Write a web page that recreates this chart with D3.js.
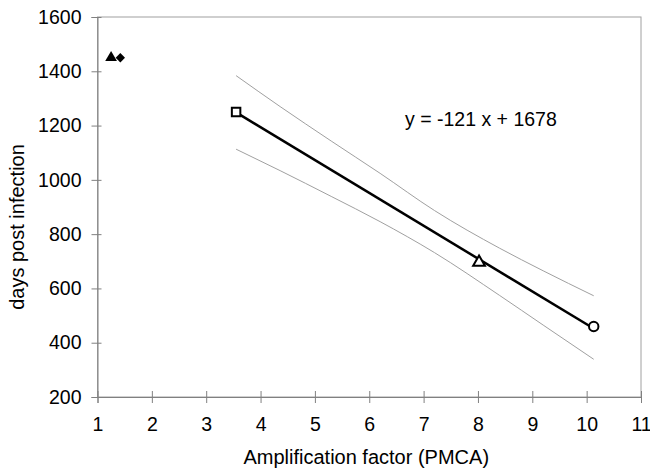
<!DOCTYPE html>
<html>
<head>
<meta charset="utf-8">
<script src="https://cdn.jsdelivr.net/npm/d3@7"></script>
<style>
  body { margin: 0; background: #fff; }
  text { font-family: "Liberation Sans", Arial, sans-serif; fill: #000; }
</style>
</head>
<body>
<svg id="chart" width="650" height="474"></svg>
<script>
// data points (amplification factor, days post infection)
const filledPoints = [
  { x: 1.25, y: 1450, shape: 'triangle' },
  { x: 1.42, y: 1450, shape: 'diamond' },
];
const openPoints = [
  { x: 3.55, y: 1250, shape: 'square' },
  { x: 8.02, y: 700, shape: 'triangle' },
  { x: 10.13, y: 460, shape: 'circle' },
];
// regression y = -121 x + 1678
const slope = -121, intercept = 1678;
const fitRange = [3.55, 10.13];
// confidence bands
const bandX = [3.55, 4.36, 5.3, 6.2, 7.2, 8.4, 9.2, 10.13];
const upperBand = [1384, 1270, 1143, 1024, 887, 748, 665, 573];
const lowerBand = [1113, 1034, 939, 846, 732, 574, 465, 339];
const xTicks = [1, 2, 3, 4, 5, 6, 7, 8, 9, 10, 11];
const yTicks = [200, 400, 600, 800, 1000, 1200, 1400, 1600];

const svg = d3.select('#chart');
const margin = { left: 97.5, right: 9, top: 17, bottom: 77 };
const W = 650, H = 474;
const FONT = 19.5;

const x = d3.scaleLinear().domain([1, 11]).range([margin.left, W - margin.right]);
const y = d3.scaleLinear().domain([200, 1600]).range([H - margin.bottom, margin.top]);

//边框
svg.append('rect')
  .attr('x', x(1)).attr('y', y(1600))
  .attr('width', x(11) - x(1)).attr('height', y(200) - y(1600))
  .attr('fill', 'none').attr('stroke', '#a0a0a0').attr('stroke-width', 1);

//坐标轴
const xAxis = svg.append('g')
  .attr('transform', `translate(0,${y(200)})`)
  .call(d3.axisBottom(x).tickValues(xTicks).tickFormat(d3.format('d')).tickSize(6).tickPadding(14));
xAxis.selectAll('.tick line').attr('y1', -6).attr('y2', 6);

const yAxis = svg.append('g')
  .attr('transform', `translate(${x(1)},0)`)
  .call(d3.axisLeft(y).tickValues(yTicks).tickFormat(d3.format('d')).tickSize(6).tickPadding(10));
yAxis.selectAll('.tick line').attr('x1', -6).attr('x2', 4);

[xAxis, yAxis].forEach(g => {
  g.select('.domain').attr('stroke', '#808080');
  g.selectAll('.tick line').attr('stroke', '#808080');
  g.selectAll('.tick text')
    .attr('font-size', FONT)
    .attr('font-family', '"Liberation Sans", Arial, sans-serif')
    .attr('fill', '#000');
});
xAxis.selectAll('.tick text').attr('dy', '0.71em');

//轴标题
svg.append('text')
  .attr('x', (x(1) + x(11)) / 2 - 3).attr('y', 464)
  .attr('text-anchor', 'middle').attr('font-size', 20)
  .text('Amplification factor (PMCA)');
svg.append('text')
  .attr('transform', `translate(24,227) rotate(-90)`)
  .attr('text-anchor', 'middle').attr('font-size', 20)
  .text('days post infection');

//置信带
const band = d3.line().x(d => x(d[0])).y(d => y(d[1])).curve(d3.curveMonotoneX);
[upperBand, lowerBand].forEach(b => {
  svg.append('path')
    .attr('d', band(bandX.map((v, i) => [v, b[i]])))
    .attr('fill', 'none').attr('stroke', '#a0a0a0').attr('stroke-width', 1);
});

//回归线
svg.append('line')
  .attr('x1', x(fitRange[0])).attr('y1', y(slope * fitRange[0] + intercept))
  .attr('x2', x(fitRange[1])).attr('y2', y(slope * fitRange[1] + intercept))
  .attr('stroke', '#000').attr('stroke-width', 2.5);

const symbolType = { triangle: d3.symbolTriangle, diamond: d3.symbolSquare, square: d3.symbolSquare, circle: d3.symbolCircle };

svg.selectAll('.filled').data(filledPoints).enter()
  .append('path')
  .attr('class', 'filled')
  .attr('d', d => d3.symbol().type(symbolType[d.shape]).size(d.shape === 'diamond' ? 44 : 60)())
  .attr('transform', d => `translate(${x(d.x)},${y(d.y)})${d.shape === 'diamond' ? ' rotate(45)' : ''}`)
  .attr('fill', '#000');

svg.selectAll('.open').data(openPoints).enter()
  .append('path')
  .attr('class', 'open')
  .attr('d', d => d3.symbol().type(symbolType[d.shape]).size(d.shape === 'circle' ? 70 : d.shape === 'square' ? 72 : 60)())
  .attr('transform', d => `translate(${x(d.x)},${y(d.y) + (d.shape === 'triangle' ? 1 : 0)})`)
  .attr('fill', '#fff').attr('stroke', '#000').attr('stroke-width', 2);

//方程
svg.append('text')
  .attr('x', 405).attr('y', 126)
  .attr('font-size', FONT)
  .text('y = -121 x + 1678');
</script>
</body>
</html>
